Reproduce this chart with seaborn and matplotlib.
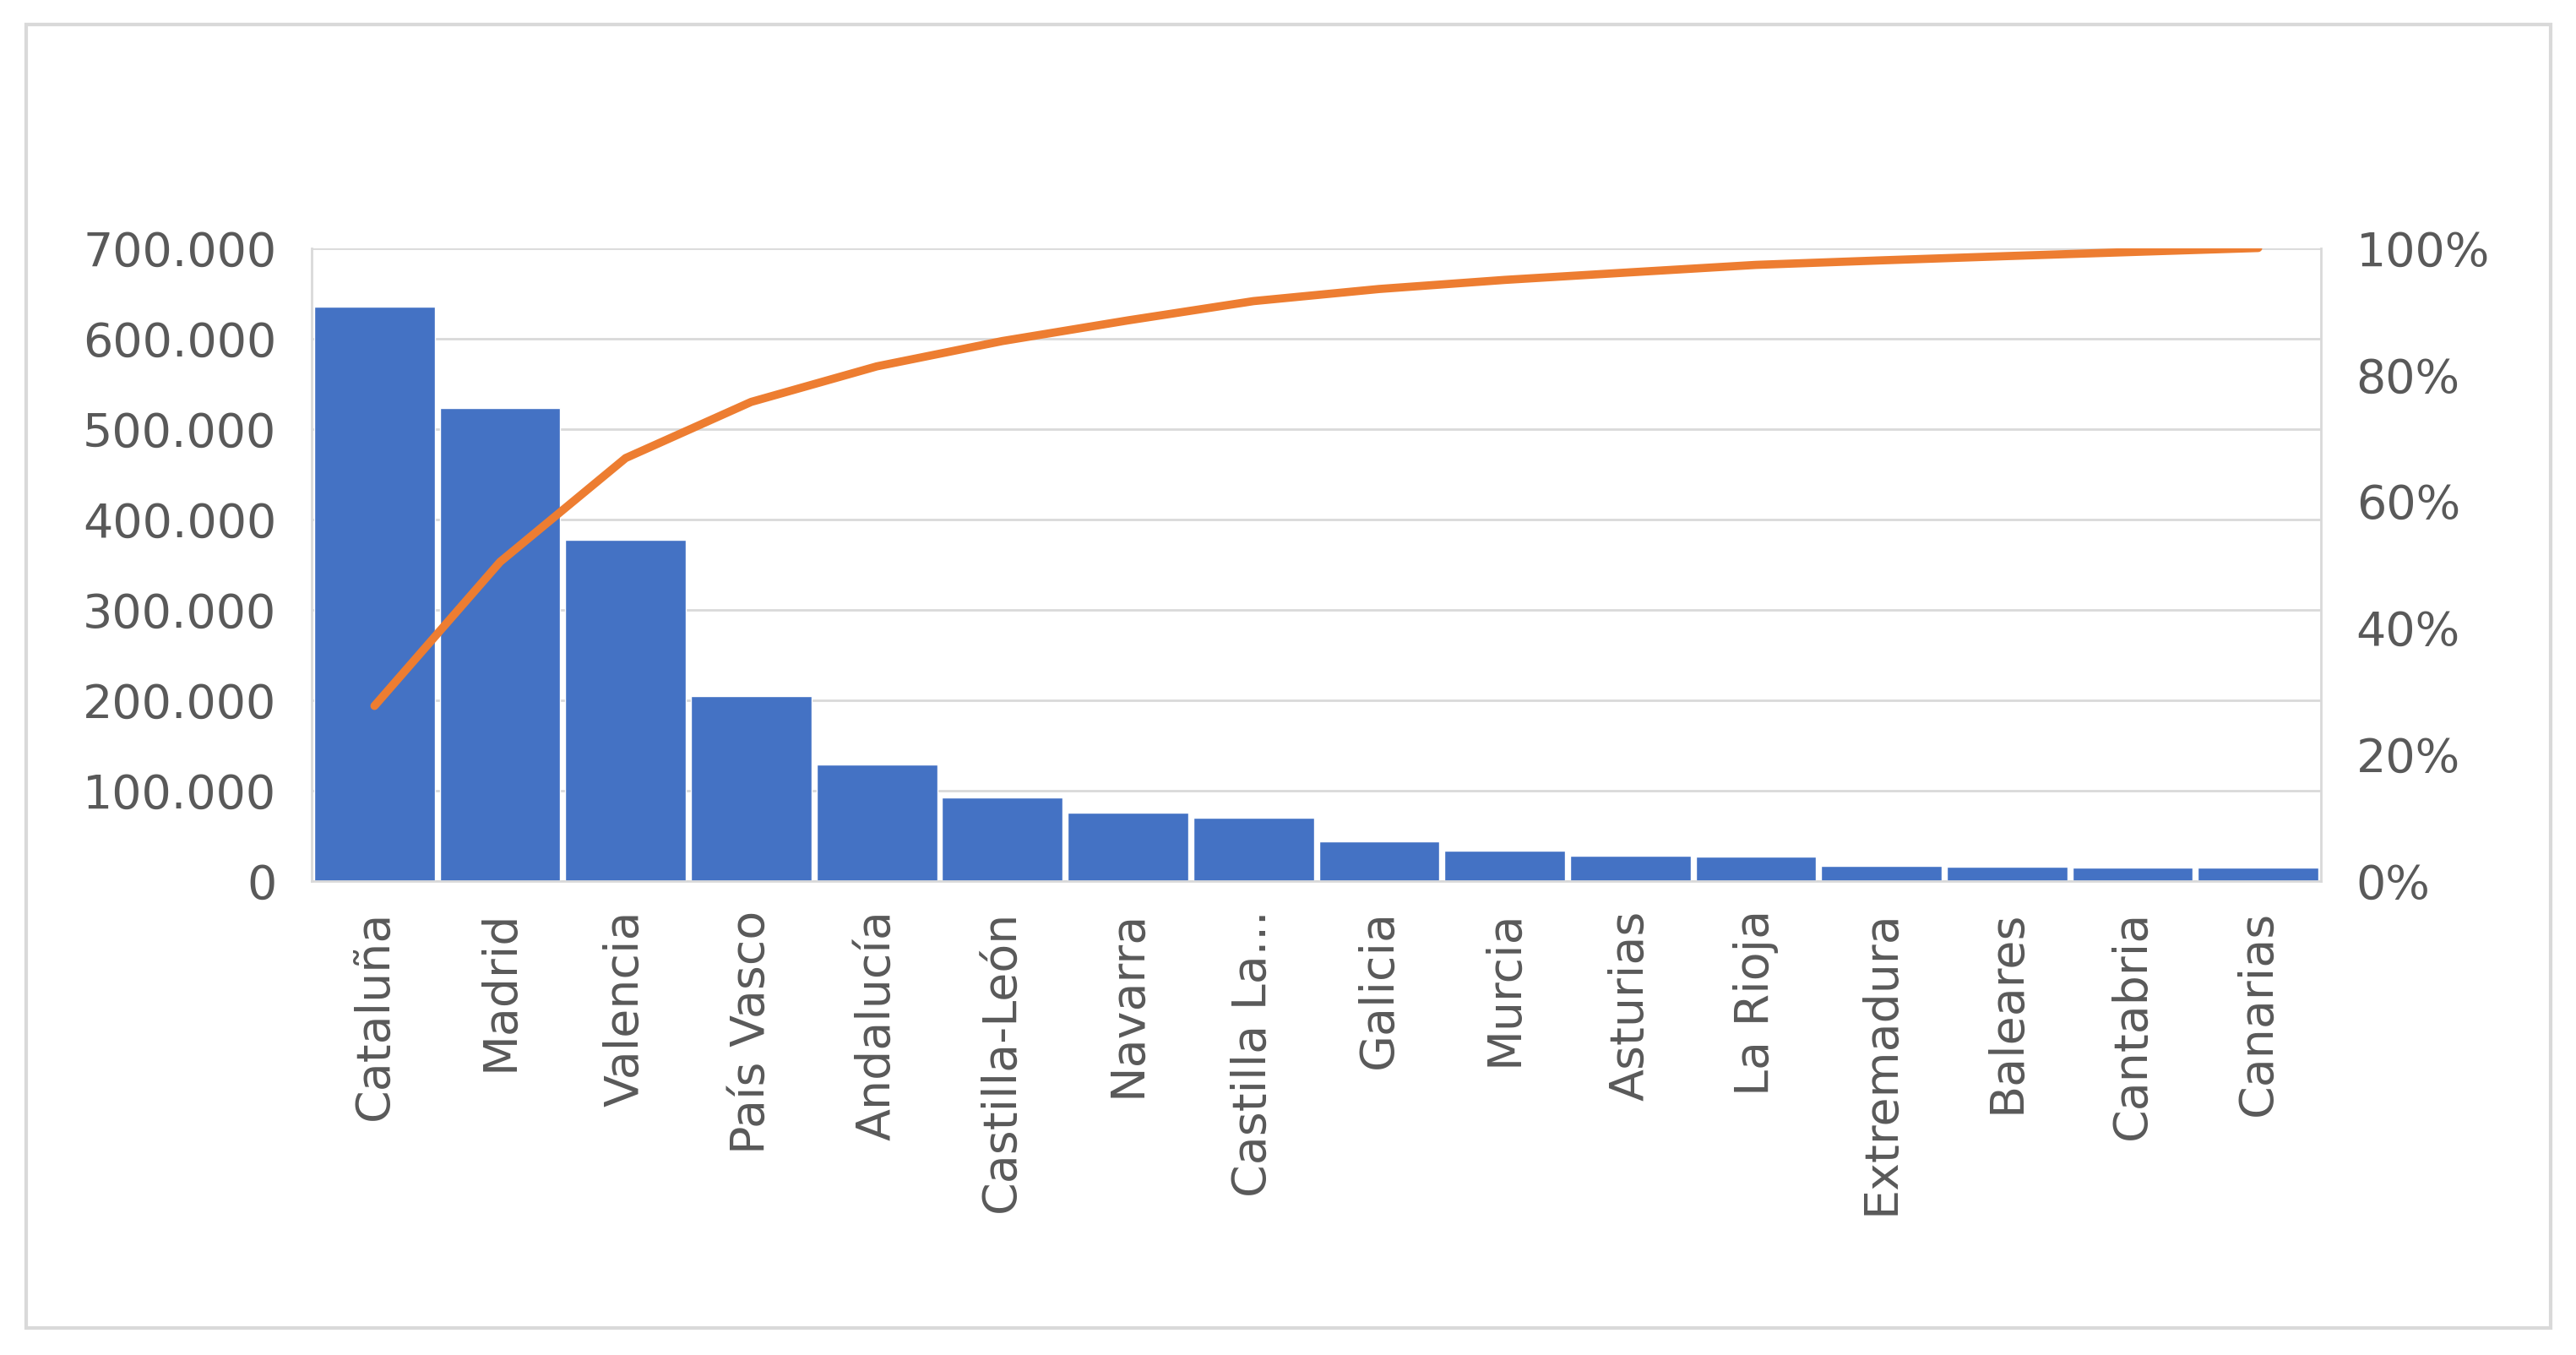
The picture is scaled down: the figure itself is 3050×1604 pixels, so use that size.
import matplotlib
matplotlib.use("Agg")
import matplotlib.pyplot as plt
import seaborn as sns
import pandas as pd
import numpy as np
from matplotlib.ticker import FuncFormatter, MultipleLocator
from matplotlib.patches import Rectangle

regions = ["Cataluña", "Madrid", "Valencia", "País Vasco", "Andalucía", "Castilla-León",
           "Navarra", "Castilla La...", "Galicia", "Murcia", "Asturias", "La Rioja",
           "Extremadura", "Baleares", "Cantabria", "Canarias"]
values = [635000, 523000, 377000, 204000, 129000, 92000, 75000, 70000,
          44000, 33000, 27500, 27000, 16500, 15500, 15000, 14500]

df = pd.DataFrame({"region": regions, "value": values})
df["cum"] = df["value"].cumsum() / df["value"].sum()

sns.set_style("white")
plt.rcParams["font.family"] = ["DejaVu Sans"]
grey = "#595959"

fig = plt.figure(figsize=(30.5, 16.04), dpi=100)
ax = fig.add_axes([0.121, 0.35, 0.78, 0.467])
sns.barplot(data=df, x="region", y="value", color="#4472C4", width=0.96,
            saturation=1, ax=ax, zorder=2)
ax.set_ylim(0, 700000)
ax.set_xlim(-0.5, len(regions) - 0.5)
ax.yaxis.set_major_locator(MultipleLocator(100000))
ax.yaxis.set_major_formatter(FuncFormatter(lambda v, p: f"{int(v):,}".replace(",", ".")))
ax.grid(axis="y", color="#D9D9D9", linewidth=2, zorder=0)
ax.set_axisbelow(True)
ax.set_xlabel(""); ax.set_ylabel("")
ax.tick_params(axis="y", labelsize=40, colors=grey, length=0, pad=30)
ax.tick_params(axis="x", labelsize=40, colors=grey, length=0, pad=25, labelrotation=90)
for s in ax.spines.values():
    s.set_visible(False)
ax.spines["bottom"].set_visible(True); ax.spines["bottom"].set_color("#D9D9D9"); ax.spines["bottom"].set_linewidth(2)
ax.spines["left"].set_visible(True); ax.spines["left"].set_color("#D9D9D9"); ax.spines["left"].set_linewidth(2)

ax2 = ax.twinx()
sns.lineplot(x=np.arange(len(regions)), y=df["cum"].values, color="#ED7D31",
             linewidth=7, ax=ax2)
ax2.set_ylim(0, 1)
ax2.yaxis.set_major_locator(MultipleLocator(0.2))
ax2.yaxis.set_major_formatter(FuncFormatter(lambda v, p: f"{v*100:.0f}%"))
ax2.tick_params(axis="y", labelsize=40, colors=grey, length=0, pad=30)
for s in ax2.spines.values():
    s.set_visible(False)
ax2.spines["right"].set_visible(True); ax2.spines["right"].set_color("#D9D9D9"); ax2.spines["right"].set_linewidth(2)

fig.patches.append(Rectangle((0.01, 0.02), 0.98, 0.962, transform=fig.transFigure,
                             fill=False, edgecolor="#D9D9D9", linewidth=3))
fig.savefig("out.png", dpi=100)
